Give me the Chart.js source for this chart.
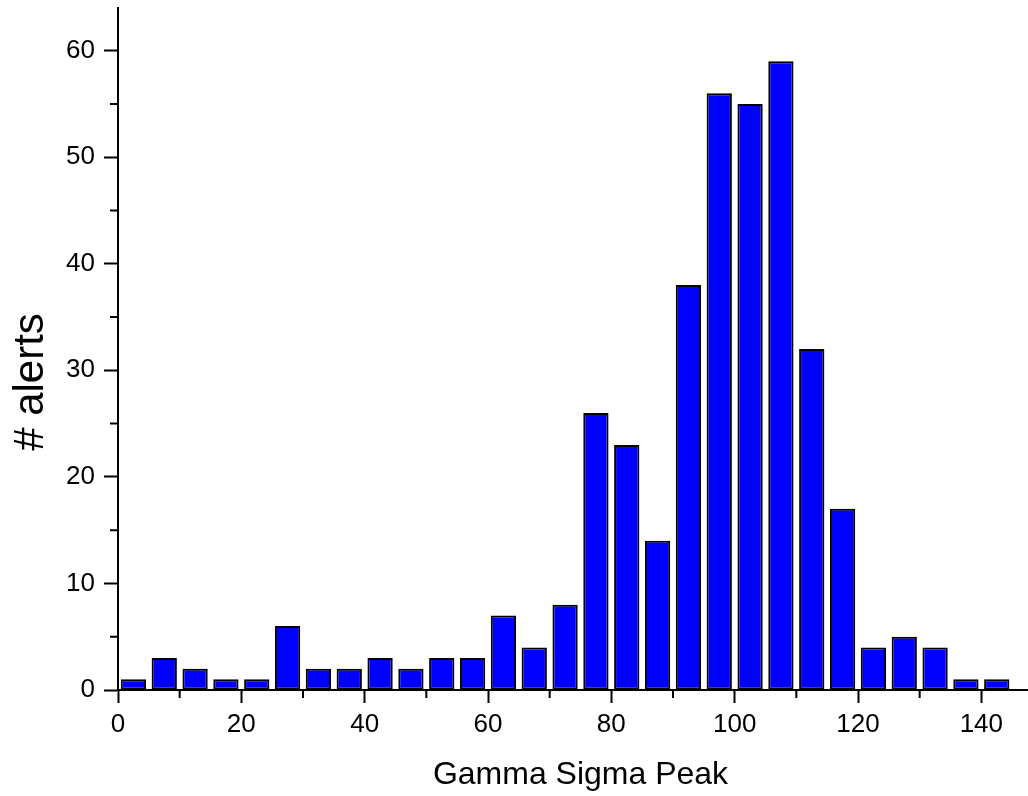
<!DOCTYPE html>
<html>
<head>
<meta charset="utf-8">
<script src="https://cdn.jsdelivr.net/npm/chart.js@4/dist/chart.umd.min.js"></script>
<style>
    html, body { margin: 0; padding: 0; background: #fff; overflow: hidden; }
    #wrap { width: 1043px; height: 796px; }
</style>
</head>
<body>
<div id="wrap"><canvas id="chart" width="1043" height="796"></canvas></div>
<script>
// HISTOGRAM DATA (bins of width 5)

const binCenters = [2.5, 7.5, 12.5, 17.5, 22.5, 27.5, 32.5, 37.5, 42.5, 47.5,
                    52.5, 57.5, 62.5, 67.5, 72.5, 77.5, 82.5, 87.5, 92.5, 97.5,
                    102.5, 107.5, 112.5, 117.5, 122.5, 127.5, 132.5, 137.5, 142.5];
const alertCounts = [1, 3, 2, 1, 1, 6, 2, 2, 3, 2,
                     3, 3, 7, 4, 8, 26, 23, 14, 38, 56,
                     55, 59, 32, 17, 4, 5, 4, 1, 1];

const xMinorTicks = [10, 30, 50, 70, 90, 110, 130, 150];
const yMinorTicks = [5, 15, 25, 35, 45, 55];

const xTitle = "Gamma Sigma Peak";
const yTitle = "# alerts";

const fontFamily = "'Liberation Sans', Arial, sans-serif";

// short outward ticks between the labelled ones
const minorTicks = {
    id: "minorTicks",
    afterDraw(chart) {
        const ctx = chart.ctx;
        const xs = chart.scales.x;
        const ys = chart.scales.y;
        ctx.save();
        ctx.strokeStyle = "#000";
        ctx.lineWidth = 2;
        ctx.beginPath();
        xMinorTicks.forEach(v => {
            const px = xs.getPixelForValue(v);
            ctx.moveTo(px, xs.top);
            ctx.lineTo(px, xs.top + 8);
        });
        yMinorTicks.forEach(v => {
            const py = ys.getPixelForValue(v);
            ctx.moveTo(ys.right, py);
            ctx.lineTo(ys.right - 8, py);
        });
        ctx.stroke();
        ctx.restore();
    }
};

// y title sits a bit below the middle of the axis in the original
const yAxisTitle = {
    id: "yAxisTitle",
    afterDraw(chart) {
        const ctx = chart.ctx;
        ctx.save();
        ctx.translate(chart.chartArea.left - 75, 382);
        ctx.rotate(-Math.PI / 2);
        ctx.font = "42px " + fontFamily;
        ctx.fillStyle = "#000";
        ctx.textAlign = "center";
        ctx.textBaseline = "alphabetic";
        ctx.fillText(yTitle, 0, 0);
        ctx.restore();
    }
};

function renderChart() {
    const canvas = document.getElementById("chart");

    new Chart(canvas, {
        type: "bar",
        data: {
            datasets: [{
                label: yTitle,
                data: binCenters.map((c, i) => ({ x: c, y: alertCounts[i] })),
                backgroundColor: "#0000FF",
                borderColor: "#000",
                borderWidth: 2,
                borderSkipped: false,
                barPercentage: 0.82,
                categoryPercentage: 1.0
            }]
        },
        options: {
            responsive: false,
            animation: false,
            layout: { padding: { top: 8, left: 0, right: 0, bottom: 0 } },
            plugins: {
                legend: { display: false },
                tooltip: { enabled: false }
            },
            scales: {
                x: {
                    type: "linear",
                    min: 0,
                    max: 150,
                    offset: false,
                    grid: {
                        offset: false,
                        drawOnChartArea: false,
                        tickLength: 13,
                        tickColor: "#000",
                        tickWidth: 2
                    },
                    border: { display: true, color: "#000", width: 2 },
                    ticks: {
                        stepSize: 20,
                        includeBounds: false,
                        maxRotation: 0,
                        autoSkip: false,
                        padding: 6,
                        color: "#000",
                        font: { family: fontFamily, size: 26 }
                    },
                    title: {
                        display: true,
                        text: xTitle,
                        color: "#000",
                        font: { family: fontFamily, size: 32 },
                        padding: { top: 0, bottom: 2 }
                    },
                    afterFit(scale) {
                        scale.height = 106;
                        scale.paddingLeft = 0;
                        scale.paddingRight = 0;
                    }
                },
                y: {
                    min: 0,
                    max: 64,
                    grid: {
                        drawOnChartArea: false,
                        tickLength: 14,
                        tickColor: "#000",
                        tickWidth: 2
                    },
                    border: { display: true, color: "#000", width: 2 },
                    ticks: {
                        stepSize: 10,
                        includeBounds: false,
                        padding: 9,
                        color: "#000",
                        font: { family: fontFamily, size: 26 }
                    },
                    afterFit(scale) {
                        scale.width = 118;
                        scale.paddingTop = 0;
                        scale.paddingBottom = 0;
                    }
                }
            }
        },
        plugins: [minorTicks, yAxisTitle]
    });
}

renderChart();
</script>
</body>
</html>
